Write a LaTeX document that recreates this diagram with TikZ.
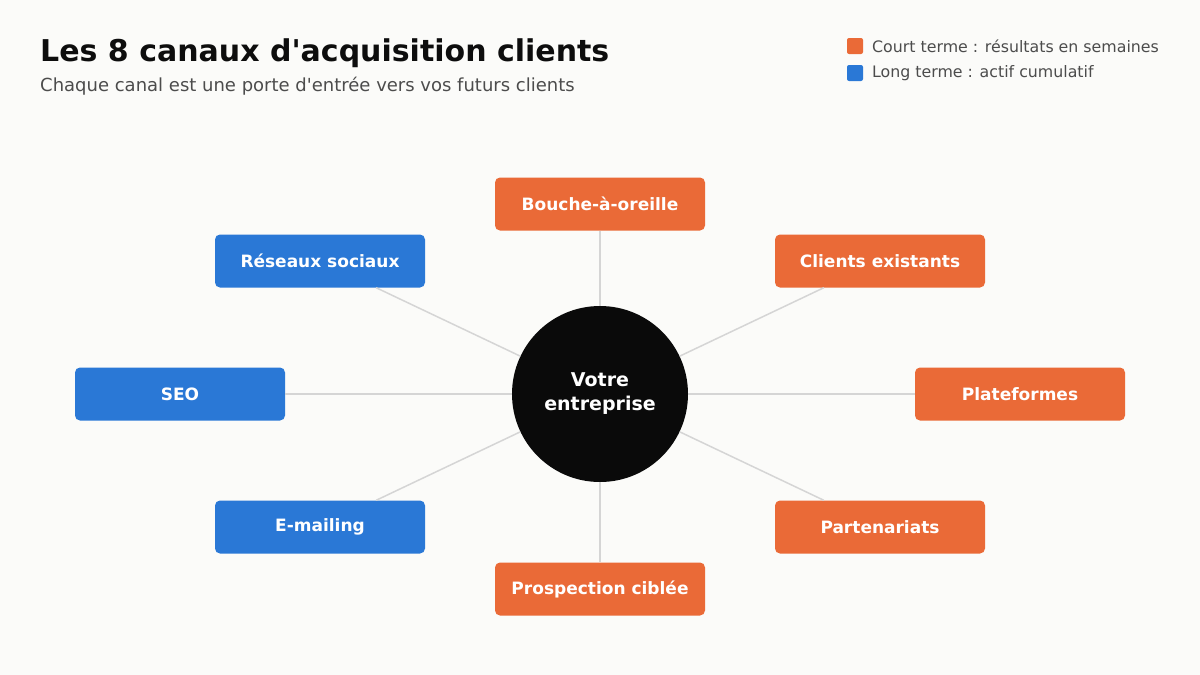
\documentclass[tikz,border=0pt]{standalone}
\usepackage{fontspec}
\setmainfont{DejaVu Sans}[Ligatures=TeXOff]
\begin{document}
\begin{tikzpicture}[x=1pt,y=-1pt,
  box/.style={rounded corners=5pt,minimum width=210pt,minimum height=53pt,text=white,font=\fontsize{17}{20}\selectfont\bfseries,inner sep=0pt},
  st/.style={box,fill=orangeC},
  lt/.style={box,fill=blueC},
  link/.style={draw=lineC,line width=1.5pt}]
\definecolor{orangeC}{HTML}{EA6A37}
\definecolor{blueC}{HTML}{2A78D6}
\definecolor{lineC}{HTML}{D5D5D5}
\definecolor{bgC}{HTML}{FBFBF9}
\fill[bgC] (0,0) rectangle (1200,675);
\useasboundingbox (0,0) rectangle (1200,675);
\node[anchor=base west,inner sep=0pt,font=\fontsize{30}{36}\selectfont\bfseries,text=black!95] (title) at (40,61) {Les 8 canaux d'acquisition clients};
\node[anchor=base west,inner sep=0pt,font=\fontsize{18}{21}\selectfont,text=black!70] (sub) at (40,91) {Chaque canal est une porte d'entrée vers vos futurs clients};
\node[fill=orangeC,rounded corners=2pt,minimum size=16pt,inner sep=0pt] (lg1) at (855,46) {};
\node[fill=blueC,rounded corners=2pt,minimum size=16pt,inner sep=0pt] (lg2) at (855,73) {};
\node[anchor=west,font=\fontsize{15.8}{18}\selectfont,text=black!70,inner sep=0pt] (lt1) at (872,46) {Court terme : résultats en semaines};
\node[anchor=west,font=\fontsize{15.8}{18}\selectfont,text=black!70,inner sep=0pt] (lt2) at (872,73) {Long terme : actif cumulatif};
\node[circle,fill=black!96,minimum size=176pt,inner sep=0pt,align=center,text=white,font=\fontsize{19}{24}\selectfont\bfseries] (c) at (600,394) {Votre\\entreprise};
\node[st] (b1) at (600,204) {Bouche-à-oreille};
\node[st] (b2) at (880,261) {Clients existants};
\node[st] (b3) at (1020,394) {Plateformes};
\node[st] (b4) at (880,527) {Partenariats};
\node[st] (b5) at (600,589) {Prospection ciblée};
\node[lt] (b6) at (320,527) {E-mailing};
\node[lt] (b7) at (180,394) {SEO};
\node[lt] (b8) at (320,261) {Réseaux sociaux};
\foreach \b in {b1,b2,b3,b4,b5,b6,b7,b8}{\draw[link] (c) -- (\b);}
\end{tikzpicture}
\end{document}
